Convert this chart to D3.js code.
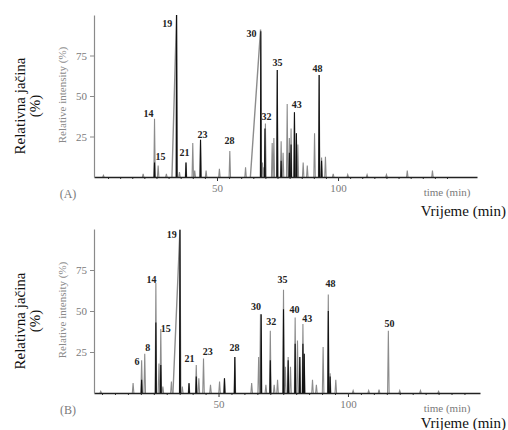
<!DOCTYPE html>
<html><head><meta charset="utf-8">
<script src="https://cdn.jsdelivr.net/npm/d3@7"></script>
<style>
html,body{margin:0;padding:0;background:#fff;}
svg{display:block;}
svg text{font-family:"Liberation Serif","Times New Roman",Times,"DejaVu Serif",serif !important;}
</style></head>
<body><svg id="c" width="508" height="430"></svg>
<script>
// ---------- DATA (time in min, relative intensity in %) ----------
// Panel A: light trace
const aLightTimes   = [3.1,19.5,24.2,25.7,29.1,34.5,37.2,40.0,40.8,43.2,45.5,51.0,55.3,61.8,68.8,69.3,70.0,72.8,73.5,74.9,76.5,77.3,79.0,79.9,80.6,82.0,82.8,83.4,85.6,87.3,90.3,92.2,93.2,94.8,98,104,112,120,128.6,139];
const aLightHeights = [1,2,36,7,2,3,9,21,4,23,4,5,16,6,9,6,33,21,24,66,22,15,45,24,30,40,27,20,9,7,27,63,12,12.5,2,1.5,1.5,1.5,4,4];
// Panel A: broad fronting peaks (19, 30)
const aFrontTimes   = [33.3,68.0];
const aFrontHeights = [100,91];
const aFrontLeads   = [1.9,4.2];
// Panel A: dark trace
const aDarkTimes    = [24.2,33.3,37.2,43.2,68.1,69.8,74.9,76.5,79.9,80.6,82.0,82.8,92.2,93.2];
const aDarkHeights  = [9,100,9,23,90,30,66,10,15,20,40,27,63,10];
// Panel A: peak labels
const aLabels       = ["14","15","19","21","23","28","30","32","35","43","48"];
const aLabelTimes   = [21.7,26.7,29.5,36.6,44.0,55.2,64.3,70.5,75.0,82.9,91.5];
const aLabelHeights = [37.3,10.8,92.9,12.7,23.8,20.1,86.7,34.9,68.8,42.3,65.1];

// Panel B: light trace
const bLightTimes   = [4.5,17,20.3,21.5,25.8,27,27.7,28.5,31.8,36,38.6,41.4,42.4,44.2,46.9,50.4,52.3,56.3,62.8,65.5,66.2,68.3,70,71.5,72.8,75.1,75.8,76.9,77.8,79.6,80.5,81.4,82.6,83.1,86.3,87.8,90.4,92.4,93.1,95.3,102,108,112,115.6,120,128,135];
const bLightHeights = [1,6,20,24,67,18,39,4,7,4,6,17,9,21,5,7,9,22,6,22,48,5,38,5,8,63,16,22,16,46,32,22,42,24,8,5,28,60,12,8,1.5,1.5,2,38,1.5,1.5,1];
// Panel B: broad fronting peak (19)
const bFrontTimes   = [35.1];
const bFrontHeights = [99.5];
const bFrontLeads   = [2.7];
// Panel B: dark trace
const bDarkTimes    = [20.3,25.8,27.7,35.1,38.6,41.4,52.3,56.3,66.5,70,75.1,76.9,79.6,81.4,82.6,83.1,92.4,93.1];
const bDarkHeights  = [8,43,17,99.5,6,10,9,22,48,20,51,20,30,22,30,24,50,10];
// Panel B: peak labels
const bLabels       = ["6","8","14","15","19","21","23","28","30","32","35","40","43","48","50"];
const bLabelTimes   = [18.5,22.7,24.1,29.6,31.9,38.8,45.8,56.2,64.5,70.4,74.7,79.3,84.3,93.3,116];
const bLabelHeights = [16.8,25.9,66.8,37.5,94.8,18.6,22.9,25.9,50.5,41.3,66.8,48.5,43,64.8,40.4];

const yTicks = [25,50,75];
const xMajor = [50,100];

// ---------- DRAW ----------
const svg = d3.select("#c");
const GRAY = "#8c8c8c", DARK = "#111";

function panel(cfg){
  const x = d3.scaleLinear().domain(cfg.xDomain).range(cfg.xRange);
  const y = d3.scaleLinear().domain([0,100]).range(cfg.yRange);
  const g = svg.append("g");
  const line = d3.line().x(d=>x(d[0])).y(d=>y(d[1]));
  const w = 0.3;

  // minor x ticks
  const minor = d3.range(5,150,5).filter(v=>v>cfg.xDomain[0]+1 && v<cfg.xDomain[1]-1 && !xMajor.includes(v));
  g.append("g").attr("transform",`translate(0,${y(0)})`)
    .call(d3.axisBottom(x).tickValues(minor).tickSize(2).tickFormat("").tickSizeOuter(0))
    .call(s=>s.select(".domain").remove())
    .call(s=>s.selectAll("line").attr("stroke","#333"));

  // light peaks
  cfg.lightT.forEach((t,i)=>{
    g.append("path").attr("d",line([[t-w,0],[t,cfg.lightH[i]],[t+w,0]]))
      .attr("fill","none").attr("stroke",GRAY).attr("stroke-width",1.1);
  });
  cfg.frontT.forEach((t,i)=>{
    g.append("path").attr("d",line([[t-cfg.frontL[i],0],[t,cfg.frontH[i]],[t+w,0]]))
      .attr("fill","none").attr("stroke",GRAY).attr("stroke-width",1.4);
  });
  // dark peaks
  cfg.darkT.forEach((t,i)=>{
    g.append("path").attr("d",line([[t-w*0.6,0],[t,cfg.darkH[i]],[t+w*0.6,0]]))
      .attr("fill","none").attr("stroke",DARK).attr("stroke-width",1.1);
  });

  // x axis
  g.append("g").attr("transform",`translate(0,${y(0)})`)
    .call(d3.axisBottom(x).tickValues(xMajor).tickSize(4).tickSizeOuter(0).tickPadding(3))
    .call(s=>s.select(".domain").attr("stroke","#222").attr("stroke-width",1.6))
    .call(s=>s.selectAll("line").attr("stroke","#333"))
    .call(s=>s.selectAll("text").attr("fill","#7a7a7a").attr("font-size",11));

  // y axis
  g.append("g").attr("transform",`translate(${cfg.xRange[0]},0)`)
    .call(d3.axisLeft(y).tickValues(yTicks).tickSize(4).tickSizeOuter(0).tickPadding(3))
    .call(s=>s.select(".domain").attr("stroke","#8a8a8a").attr("stroke-width",1.2))
    .call(s=>s.selectAll("line").attr("stroke","#8a8a8a"))
    .call(s=>s.selectAll("text").attr("fill","#7a7a7a").attr("font-size",11));

  // peak labels
  cfg.labels.forEach((l,i)=>{
    g.append("text").attr("x",x(cfg.labelT[i])).attr("y",y(cfg.labelH[i]))
      .attr("text-anchor","middle").attr("font-size",10).attr("font-weight","bold")
      .attr("fill","#222").text(l);
  });

  // axis titles
  const yMid = (cfg.yRange[0]+cfg.yRange[1])/2;
  g.append("text").attr("transform",`translate(66,${yMid-1}) rotate(-90)`)
    .attr("text-anchor","middle").attr("font-size",11).attr("fill","#8a8a8a")
    .text("Relative intensity (%)");
  g.append("text").attr("transform",`translate(25,${yMid+10}) rotate(-90)`)
    .attr("text-anchor","middle").attr("font-size",15).attr("fill","#111")
    .text("Relativna jačina");
  g.append("text").attr("transform",`translate(40,${yMid+10}) rotate(-90)`)
    .attr("text-anchor","middle").attr("font-size",15).attr("fill","#111")
    .text("(%)");
  g.append("text").attr("x",68).attr("y",cfg.yRange[0]+21)
    .attr("text-anchor","middle").attr("font-size",12).attr("fill","#7a7a7a")
    .text(cfg.tag);
  g.append("text").attr("x",447).attr("y",cfg.yRange[0]+19)
    .attr("text-anchor","middle").attr("font-size",11).attr("fill","#7a7a7a")
    .text("time (min)");
  g.append("text").attr("x",506).attr("y",cfg.vrY)
    .attr("text-anchor","end").attr("font-size",15).attr("fill","#111")
    .text("Vrijeme (min)");
}

panel({xDomain:[-0.8,157.4], xRange:[94,477], yRange:[177,15], tag:"(A)", vrY:216,
  lightT:aLightTimes, lightH:aLightHeights, frontT:aFrontTimes, frontH:aFrontHeights, frontL:aFrontLeads,
  darkT:aDarkTimes, darkH:aDarkHeights, labels:aLabels, labelT:aLabelTimes, labelH:aLabelHeights});
panel({xDomain:[1.9,151], xRange:[94,480], yRange:[393,229], tag:"(B)", vrY:427.5,
  lightT:bLightTimes, lightH:bLightHeights, frontT:bFrontTimes, frontH:bFrontHeights, frontL:bFrontLeads,
  darkT:bDarkTimes, darkH:bDarkHeights, labels:bLabels, labelT:bLabelTimes, labelH:bLabelHeights});
</script></body></html>
